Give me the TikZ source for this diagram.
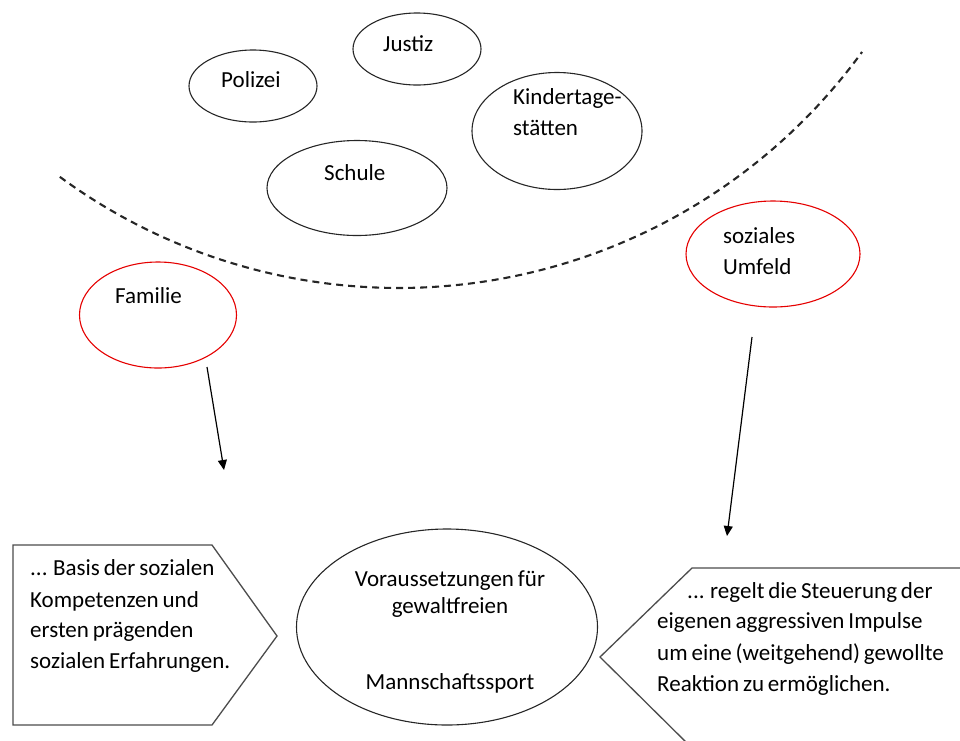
\documentclass[tikz,border=0pt]{standalone}
\usepackage{fontspec}
\setmainfont[WordSpace=0.75]{Carlito}
\usetikzlibrary{shapes.geometric,arrows.meta}

\tikzset{
  oval/.style={ellipse, draw=black!85, line width=1.1pt, inner sep=0pt},
  redoval/.style={ellipse, draw=red!90!black, line width=1.1pt, inner sep=0pt},
  txt/.style={anchor=base west, inner sep=0pt, font=\fontsize{23}{31}\selectfont, text=black},
  ctxt/.style={anchor=base, inner sep=0pt, font=\fontsize{23}{31}\selectfont, text=black},
  pointer/.style={draw=black!70, line width=1.3pt, line join=miter},
  flow/.style={line width=1.2pt, -{Triangle[length=10pt,width=9pt]}},
  boundary/.style={line width=2.1pt, dash pattern=on 7pt off 5pt, black!85}
}

\begin{document}
\begin{tikzpicture}[x=1pt, y=-1pt]
\useasboundingbox (0,0) rectangle (960,740);
\clip (0,0) rectangle (960,740);

% institutions outside the boundary
\node[oval, minimum width=128pt, minimum height=72pt] (polizei) at (253,86) {};
\node[txt] (tpolizei) at (221,87) {Polizei};
\node[oval, minimum width=128pt, minimum height=72pt] (justiz) at (417,49) {};
\node[txt] (tjustiz) at (383,51) {Justiz};
\node[oval, minimum width=170pt, minimum height=117pt] (kita) at (557,131) {};
\node[txt] (tkita1) at (513,104) {Kindertage-};
\node[txt] (tkita2) at (513,135) {stätten};
\node[oval, minimum width=180pt, minimum height=95pt] (schule) at (357,188) {};
\node[txt] (tschule) at (324,180) {Schule};

% dashed boundary arc
\draw[boundary] plot[domain=126.3:36, samples=90]
  ({398.8+572.6*cos(\x)}, {-284.6+572.6*sin(\x)});

% family and social environment
\node[redoval, minimum width=157pt, minimum height=106pt] (familie) at (158,315) {};
\node[txt] (tfamilie) at (115,303) {Familie};
\node[redoval, minimum width=174pt, minimum height=106pt] (umfeld) at (773,254) {};
\node[txt] (tumfeld1) at (723,243) {soziales};
\node[txt] (tumfeld2) at (723,274) {Umfeld};

% arrows
\coordinate (a1s) at (207,367);
\coordinate (a1e) at (224,470);
\coordinate (a2s) at (752,337);
\coordinate (a2e) at (727,536);
\draw[flow] (a1s) -- (a1e);
\draw[flow] (a2s) -- (a2e);

% central ellipse
\node[oval, minimum width=301pt, minimum height=196pt] (center) at (447,627) {};
\node[ctxt] (tc1) at (450,586) {Voraussetzungen für};
\node[ctxt] (tc2) at (450,613) {gewaltfreien};
\node[ctxt] (tc3) at (450,689) {Mannschaftssport};

% left pointer box
\draw[pointer] (13,545) -- (212,545) -- (277,636) -- (212,725) -- (13,725) -- cycle;
\node[txt] (l1) at (30,575) {... Basis der sozialen};
\node[txt] (l2) at (30,607) {Kompetenzen und};
\node[txt] (l3) at (30,637) {ersten prägenden};
\node[txt] (l4) at (30,668) {sozialen Erfahrungen.};

% right pointer box
\draw[pointer] (970,568) -- (692,568) -- (600,657) -- (692,748);
\node[txt] (r1) at (687,598) {... regelt die Steuerung der};
\node[txt] (r2) at (657,628) {eigenen aggressiven Impulse};
\node[txt] (r3) at (657,660) {um eine (weitgehend) gewollte};
\node[txt] (r4) at (657,691) {Reaktion zu ermöglichen.};
\end{tikzpicture}
\end{document}
